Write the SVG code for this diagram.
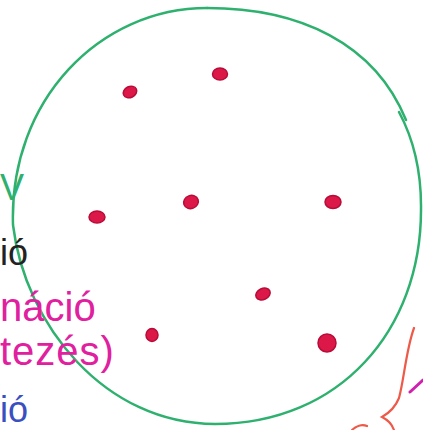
<svg xmlns="http://www.w3.org/2000/svg" width="423" height="430" viewBox="0 0 423 430">
<style>
.dot{fill:#dc1848;stroke:#b80c38;stroke-width:1.5}
.lbl{font-family:"Liberation Sans","DejaVu Sans",sans-serif;font-size:36px}
.mag{fill:#e0209e;font-size:40px}
.ring{fill:none;stroke:#2eb06e;stroke-width:2.5;stroke-linecap:round}
.brace{fill:none;stroke:#ee5a4a;stroke-width:2.2;stroke-linecap:round}
</style>
<rect width="423" height="430" fill="#ffffff"/>
<g id="set">
<path class="ring" d="M207,8 C299.25,8 374.6,42.9 406,120"/>
<path class="ring" d="M399,112 C414,140 421.5,175 421,210 C421,330 340,424 215,424 C105,424 25,325 13,225 C9,100 100,8 207,8"/>
</g>
<g id="elements">
<ellipse class="dot" cx="130" cy="92" rx="7" ry="5.5" transform="rotate(-25 130 92)"/>
<ellipse class="dot" cx="220" cy="74" rx="7.5" ry="6"/>
<ellipse class="dot" cx="191" cy="202" rx="7.5" ry="6.5" transform="rotate(-20 191 202)"/>
<ellipse class="dot" cx="333" cy="202" rx="8" ry="6.5"/>
<ellipse class="dot" cx="97" cy="217" rx="8" ry="6"/>
<ellipse class="dot" cx="263" cy="294" rx="7.5" ry="5.5" transform="rotate(-25 263 294)"/>
<ellipse class="dot" cx="152" cy="335" rx="6" ry="6.5"/>
<ellipse class="dot" cx="327" cy="343" rx="9" ry="9"/>
</g>
<g id="labels">
<text class="lbl" x="0" y="200" fill="#2eb06e" font-size="30">V</text>
<text class="lbl" x="0" y="265" fill="#222222">ió</text>
<text class="lbl mag" x="0" y="321">náció</text>
<text class="lbl mag" x="0" y="365" letter-spacing="1">tezés)</text>
<text class="lbl" x="0" y="422" fill="#3a4fc0">ió</text>
</g>
<g id="connectors">
<path class="brace" d="M414,328 C406,350 404,380 399,398 C395,408 389,413 382,417 C388,420 392,424 394,430"/>
<path class="brace" d="M352,430 C356,426 362,424 367,426"/>
<path d="M410,392 L423,380" fill="none" stroke="#d020b0" stroke-width="3" stroke-linecap="round"/>
</g>
</svg>
